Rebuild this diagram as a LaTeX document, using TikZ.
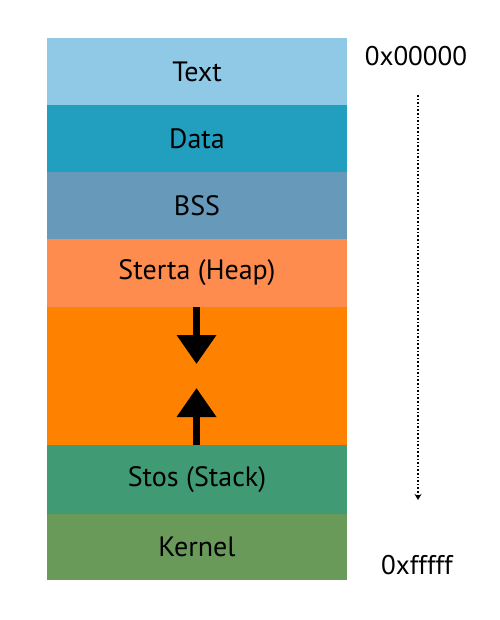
\documentclass[tikz,border=0pt]{standalone}
\usepackage{fontspec}
\setmainfont{PT Sans}
\usetikzlibrary{arrows.meta}
\definecolor{ctext}{HTML}{8FC9E5}
\definecolor{cdata}{HTML}{229EBE}
\definecolor{cbss}{HTML}{6699BA}
\definecolor{cheap}{HTML}{FF8C4F}
\definecolor{cgap}{HTML}{FF8100}
\definecolor{cstack}{HTML}{409A74}
\definecolor{ckern}{HTML}{6A9A5A}
\begin{document}
\begin{tikzpicture}[x=1pt,y=-1pt,
  seg/.style={minimum width=300pt,inner sep=0pt,outer sep=0pt,anchor=north west,font=\fontsize{28}{32}\selectfont},
  addr/.style={font=\fontsize{27}{31}\selectfont,inner sep=0pt},
  bigarrow/.style={line width=7pt,-{Triangle[width=38pt,length=29pt]}}]
\useasboundingbox (0,0) rectangle (499,620);
\node[seg,fill=ctext,minimum height=67pt] (text) at (47,38) {Text};
\node[seg,fill=cdata,minimum height=67pt] (data) at (47,105) {Data};
\node[seg,fill=cbss,minimum height=67pt] (bss) at (47,172) {BSS};
\node[seg,fill=cheap,minimum height=68pt] (heap) at (47,239) {Sterta (Heap)};
\node[seg,fill=cgap,minimum height=138pt] (gap) at (47,307) {};
\node[seg,fill=cstack,minimum height=69pt] (stack) at (47,445) {Stos (Stack)};
\node[seg,fill=ckern,minimum height=66pt] (kern) at (47,514) {Kernel};
\coordinate (d1) at (196.5,307);
\coordinate (d2) at (196.5,364);
\coordinate (u1) at (196.5,445);
\coordinate (u2) at (196.5,388);
\draw[bigarrow] (d1) -- (d2);
\draw[bigarrow] (u1) -- (u2);
\node[addr] (lo) at (416,56) {0x00000};
\node[addr] (hi) at (417,565) {0xfffff};
\coordinate (a1) at (418,95);
\coordinate (a2) at (418,500);
\draw[line width=1.6pt,dotted,-{Stealth[length=6pt,width=7pt]}] (a1) -- (a2);
\end{tikzpicture}
\end{document}
